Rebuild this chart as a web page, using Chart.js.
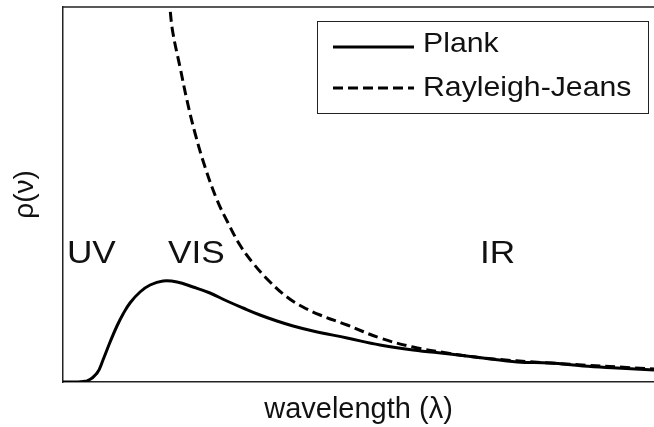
<!DOCTYPE html>
<html>
<head>
<meta charset="utf-8">
<script src="https://cdn.jsdelivr.net/npm/chart.js@4.4.1/dist/chart.umd.min.js"></script>
<style>
  html, body { margin: 0; padding: 0; background: #fff; }
  #wrap { width: 654px; height: 427px; }
</style>
</head>
<body>
<div id="wrap"><canvas id="spectrum"></canvas></div>
<script>
// wavelength in arbitrary units (nm-ish), intensity in arbitrary units
const plankX = [0, 61, 122, 173, 203, 239, 274, 305, 340, 391, 442, 508, 579, 660, 746, 832, 914, 1000, 1086, 1168, 1269, 1442, 1609, 1777, 1964, 2132, 2305, 2472, 2640, 2812, 3000];
const plankY = [0, 0, 1, 9, 22, 40, 56, 68, 79, 90, 97, 101, 100, 95, 89, 81, 74, 67, 61, 56, 51, 44, 37, 32, 28, 24, 20, 19, 16, 14, 12];

const rjX = [520, 543, 558, 594, 629, 670, 721, 782, 838, 898, 964, 1051, 1137, 1218, 1305, 1442, 1609, 1777, 1949, 2132, 2472, 3000];
const rjY = [430, 374, 349, 315, 282, 249, 215, 182, 159, 137, 119, 100, 85, 75, 67, 57, 44, 35, 29, 24, 19, 13];

const seriesNames = ['Plank', 'Rayleigh-Jeans'];
const regionLabels = ['UV', 'VIS', 'IR'];
const regionX = [20, 533, 2117];
const regionY = [119, 119, 119];

const font = '"Liberation Sans", Arial, Helvetica, sans-serif';

const toPoints = (xs, ys) => xs.map((x, i) => ({ x: x, y: ys[i] }));

// draw text a bit wider, like the reference
function wideText(ctx, text, x, y, sx) {
  ctx.save();
  ctx.translate(x, y);
  ctx.scale(sx, 1);
  ctx.fillText(text, 0, 0);
  ctx.restore();
}

const extras = {
  id: 'extras',
  afterDatasetsDraw(chart) {
    const ctx = chart.ctx;
    const area = chart.chartArea;
    const xs = chart.scales.x, ys = chart.scales.y;
    ctx.save();
    // top frame line
    ctx.strokeStyle = '#222';
    ctx.lineWidth = 1.5;
    ctx.beginPath();
    ctx.moveTo(area.left, area.top);
    ctx.lineTo(area.right, area.top);
    ctx.stroke();

    // region labels
    ctx.fillStyle = '#111';
    ctx.font = '32px ' + font;
    ctx.textAlign = 'left';
    ctx.textBaseline = 'alphabetic';
    regionLabels.forEach((t, i) => {
      wideText(ctx, t, xs.getPixelForValue(regionX[i]), ys.getPixelForValue(regionY[i]), 1.1);
    });

    // legend box
    const bx = 317.5, by = 21.5, bw = 331, bh = 92;
    ctx.fillStyle = '#fff';
    ctx.fillRect(bx, by, bw, bh);
    ctx.strokeStyle = '#222';
    ctx.lineWidth = 1;
    ctx.strokeRect(bx, by, bw, bh);

    ctx.font = '28px ' + font;
    ctx.fillStyle = '#111';
    const lineY = [47, 88];
    const textY = [52, 96];
    chart.data.datasets.forEach((ds, i) => {
      ctx.strokeStyle = '#000';
      ctx.lineWidth = 3;
      ctx.setLineDash(ds.borderDash || []);
      ctx.beginPath();
      ctx.moveTo(333, lineY[i]);
      ctx.lineTo(414, lineY[i]);
      ctx.stroke();
      ctx.setLineDash([]);
      wideText(ctx, ds.label, 423, textY[i], 1.08);
    });
    ctx.restore();
  }
};

new Chart(document.getElementById('spectrum'), {
  type: 'line',
  data: {
    datasets: [
      {
        label: seriesNames[0],
        data: toPoints(plankX, plankY),
        borderColor: '#000',
        borderWidth: 3,
        pointRadius: 0,
        tension: 0.4
      },
      {
        label: seriesNames[1],
        data: toPoints(rjX, rjY),
        borderColor: '#000',
        borderWidth: 3,
        borderDash: [10, 5],
        pointRadius: 0,
        tension: 0.4
      }
    ]
  },
  options: {
    responsive: true,
    maintainAspectRatio: false,
    animation: false,
    layout: { padding: { top: 7, right: 0, left: 0, bottom: 0 } },
    plugins: {
      legend: { display: false },
      tooltip: { enabled: false }
    },
    scales: {
      x: {
        type: 'linear',
        min: 0,
        max: 3000,
        grid: { display: false },
        border: { display: true, color: '#222', width: 1.5 },
        ticks: { display: false },
        title: {
          display: true,
          text: 'wavelength (λ)',
          color: '#111',
          font: { family: font, size: 29 },
          padding: { top: 0, bottom: 0 }
        },
        afterFit(scale) { scale.height = 45; }
      },
      y: {
        min: 0,
        max: 375,
        grid: { display: false },
        border: { display: true, color: '#222', width: 1.5 },
        ticks: { display: false },
        title: {
          display: true,
          text: 'ρ(ν)',
          color: '#111',
          font: { family: font, size: 28 },
          padding: { top: 8, bottom: 0 }
        },
        afterFit(scale) { scale.width = 63; }
      }
    }
  },
  plugins: [extras]
});
</script>
</body>
</html>
